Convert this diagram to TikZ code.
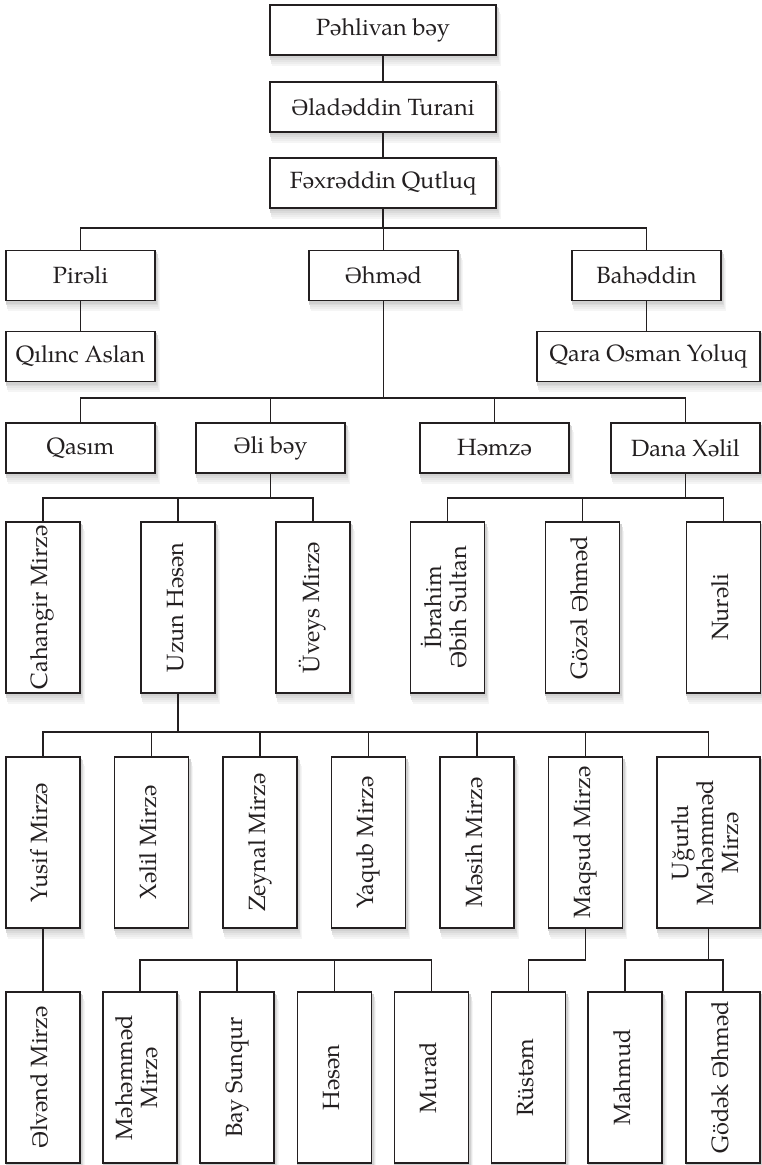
\documentclass[tikz,border=0pt]{standalone}
\usepackage{fontspec}
\setmainfont{texgyrepagella-regular.otf}
\newfontfamily\schwafont{Liberation Serif}
\newcommand{\Schwa}{{\schwafont Ə}}
\newcommand{\upright}[1]{\rotatebox{90}{\begin{tabular}{@{}c@{}}#1\end{tabular}}}
\usetikzlibrary{backgrounds,calc}
\definecolor{ink}{HTML}{231F20}
\tikzset{
  x=1pt, y=-1pt,
  person/.style={draw=ink, line width=1.6pt, fill=white, inner sep=2pt,
    text=ink, font=\fontsize{23.5}{25}\selectfont},
  hbox/.style={person, minimum height=50pt},
  vbox/.style={person, minimum width=74pt, minimum height=171pt},
  link/.style={draw=ink, line width=1.5pt},
}
\begin{document}
\begin{tikzpicture}
\useasboundingbox (0,0) rectangle (761,1165);

% first generations
\node[hbox, minimum width=226pt] (pb) at (383,30) {Pəhlivan bəy};
\node[hbox, minimum width=226pt] (at) at (383,107) {\Schwa ladəddin Turani};
\node[hbox, minimum width=226pt] (fq) at (383,183) {Fəxrəddin Qutluq};

\node[hbox, minimum width=149pt] (pir) at (80.5,275.5) {Pirəli};
\node[hbox, minimum width=149pt] (ahm) at (383.5,275.5) {\Schwa hməd};
\node[hbox, minimum width=149pt] (bah) at (646.5,275.5) {Bahəddin};

\node[hbox, minimum width=149pt] (qa) at (80.5,356.5) {Qılınc Aslan};
\node[hbox, minimum width=223pt] (qoy) at (648.5,356.5) {Qara Osman Yoluq};

\node[hbox, minimum width=149pt] (qas) at (80.5,448) {Qasım};
\node[hbox, minimum width=149pt] (ali) at (270.5,448) {\Schwa li bəy};
\node[hbox, minimum width=149pt] (hem) at (494.5,448) {Həmzə};
\node[hbox, minimum width=149pt] (dx) at (685.5,448) {Dana Xəlil};

% sons of Əli bəy and Dana Xəlil
\node[vbox] (cm) at (43,607.5) {\upright{Cahangir Mirzə}};
\node[vbox] (uh) at (178,607.5) {\upright{Uzun Həsən}};
\node[vbox] (um) at (313,607.5) {\upright{Üveys Mirzə}};
\node[vbox] (ib) at (447.5,607.5) {\upright{İbrahim\\\Schwa bih Sultan}};
\node[vbox] (ga) at (582.5,607.5) {\upright{Gözəl \Schwa hməd}};
\node[vbox] (nur) at (723.5,607.5) {\upright{Nurəli}};

% sons of Uzun Həsən
\node[vbox] (ym) at (43,842.5) {\upright{Yusif Mirzə}};
\node[vbox] (xm) at (151.5,842.5) {\upright{Xəlil Mirzə}};
\node[vbox] (zm) at (260,842.5) {\upright{Zeynal Mirzə}};
\node[vbox] (yq) at (368.5,842.5) {\upright{Yaqub Mirzə}};
\node[vbox] (msm) at (477,842.5) {\upright{Məsih Mirzə}};
\node[vbox] (maq) at (585.5,842.5) {\upright{Maqsud Mirzə}};
\node[vbox, minimum width=103pt] (umm) at (708.5,842.5) {\upright{Uğurlu\\Məhəmməd\\Mirzə}};

% grandsons
\node[vbox] (em) at (43,1077.5) {\upright{\Schwa lvənd Mirzə}};
\node[vbox] (mhm) at (140,1077.5) {\upright{Məhəmməd\\Mirzə}};
\node[vbox] (bs) at (237,1077.5) {\upright{Bay Sunqur}};
\node[vbox] (hs) at (334.5,1077.5) {\upright{Həsən}};
\node[vbox] (mur) at (431.5,1077.5) {\upright{Murad}};
\node[vbox] (rus) at (528.5,1077.5) {\upright{Rüstəm}};
\node[vbox] (mah) at (625,1077.5) {\upright{Mahmud}};
\node[vbox] (gah) at (723,1077.5) {\upright{Gödək \Schwa hməd}};

% soft shadows under every box
\begin{scope}[on background layer]
\foreach \n in {pb,at,fq,pir,ahm,bah,qa,qoy,qas,ali,hem,dx,cm,uh,um,ib,ga,nur,
                ym,xm,zm,yq,msm,maq,umm,em,mhm,bs,hs,mur,rus,mah,gah}{
  \foreach \dx/\dy/\shade in {4/10/4,3/8/7,2.5/6/10,2/4/14,1.5/2.5/18}{
    \fill[black!\shade] ($(\n.south west)+(\dx-1,\dy)$) rectangle ($(\n.north east)+(\dx,\dy)$);
  }
}
\end{scope}

% connectors
\draw[link] (pb) -- (at);
\draw[link] (at) -- (fq);

\coordinate (b1) at (fq.south |- 0,228);
\draw[link] (fq.south) -- (b1);
\draw[link] (b1) -| (pir.north);
\draw[link] (b1) -| (ahm.north);
\draw[link] (b1) -| (bah.north);

\draw[link] (pir) -- (qa);
\draw[link] (bah.south) -- (bah.south |- qoy.north);

\coordinate (b2) at (ahm.south |- 0,398);
\draw[link] (ahm.south) -- (b2);
\draw[link] (b2) -| (qas.north);
\draw[link] (b2) -| (ali.north);
\draw[link] (b2) -| (hem.north);
\draw[link] (b2) -| (dx.north);

\coordinate (b3) at (ali.south |- 0,498);
\draw[link] (ali.south) -- (b3);
\draw[link] (b3) -| (cm.north);
\draw[link] (b3) -| (uh.north);
\draw[link] (b3) -| (um.north);

\coordinate (b4) at (dx.south |- 0,498);
\draw[link] (dx.south) -- (b4);
\draw[link] (b4) -| (ib.north);
\draw[link] (b4) -| (ga.north);
\draw[link] (b4) -| (nur.north);

\coordinate (b5) at (uh.south |- 0,732);
\draw[link] (uh.south) -- (b5);
\draw[link] (b5) -| (ym.north);
\draw[link] (b5) -| (xm.north);
\draw[link] (b5) -| (zm.north);
\draw[link] (b5) -| (yq.north);
\draw[link] (b5) -| (msm.north);
\draw[link] (b5) -| (maq.north);
\draw[link] (b5) -| (umm.north);

\draw[link] (ym) -- (em);

\coordinate (b6) at (286,960);
\draw[link] (b6) -| (mhm.north);
\draw[link] (b6) -| (bs.north);
\draw[link] (b6) -| (hs.north);
\draw[link] (b6) -| (mur.north);

\coordinate (b7) at (maq.south |- 0,960);
\draw[link] (maq.south) -- (b7);
\draw[link] (b7) -| (rus.north);

\coordinate (b8) at (umm.south |- 0,960);
\draw[link] (umm.south) -- (b8);
\draw[link] (b8) -| (mah.north);
\draw[link] (b8) -| (gah.north);
\end{tikzpicture}
\end{document}
